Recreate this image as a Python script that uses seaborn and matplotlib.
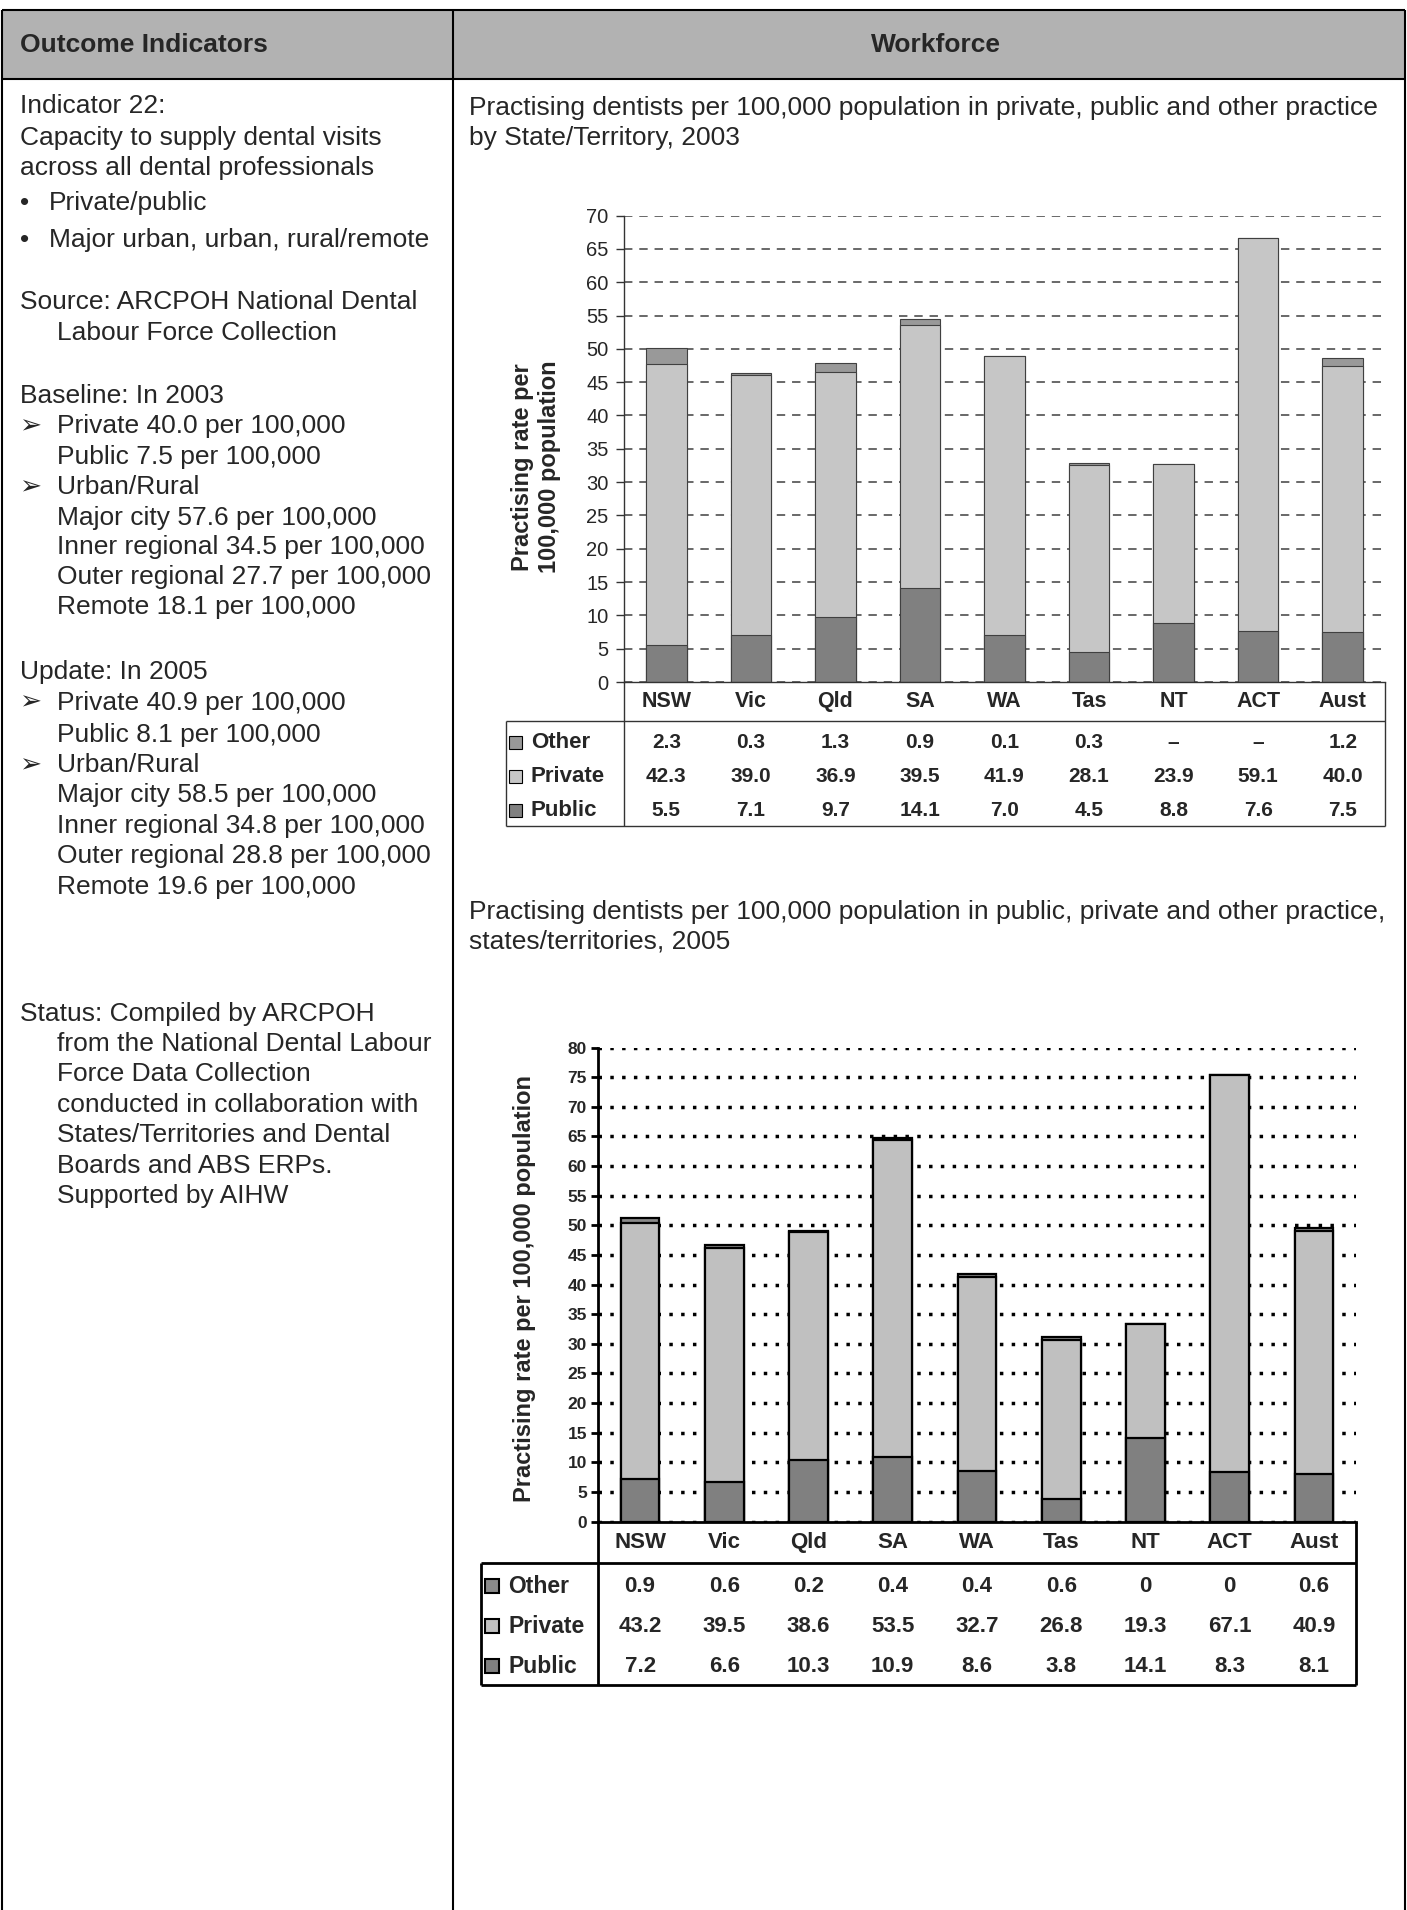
import numpy as np
import pandas as pd
import matplotlib
matplotlib.use("Agg")
import matplotlib.pyplot as plt
import matplotlib.transforms as mtransforms
from matplotlib.patches import Rectangle
import seaborn as sns

# ---- data ----
states = ["NSW", "Vic", "Qld", "SA", "WA", "Tas", "NT", "ACT", "Aust"]

public_2003 = [5.5, 7.1, 9.7, 14.1, 7.0, 4.5, 8.8, 7.6, 7.5]
private_2003 = [42.3, 39.0, 36.9, 39.5, 41.9, 28.1, 23.9, 59.1, 40.0]
other_2003 = [2.3, 0.3, 1.3, 0.9, 0.1, 0.3, np.nan, np.nan, 1.2]  # nan = shown as dash

public_2005 = [7.2, 6.6, 10.3, 10.9, 8.6, 3.8, 14.1, 8.3, 8.1]
private_2005 = [43.2, 39.5, 38.6, 53.5, 32.7, 26.8, 19.3, 67.1, 40.9]
other_2005 = [0.9, 0.6, 0.2, 0.4, 0.4, 0.6, 0, 0, 0.6]

title_2003 = ("Practising dentists per 100,000 population in private, public and other practice\n"
              "by State/Territory, 2003")
title_2005 = ("Practising dentists per 100,000 population in public, private and other practice,\n"
              "states/territories, 2005")

# left column text: (y in layout units, marker, text)
left_lines = [
    (87, None, "Indicator 22:"),
    (113, None, "Capacity to supply dental visits"),
    (138, None, "across all dental professionals"),
    (167, "•", "Private/public"),
    (197, "•", "Major urban, urban, rural/remote"),
    (248, None, "Source: ARCPOH National Dental"),
    (273, "ind", "Labour Force Collection"),
    (325, None, "Baseline: In 2003"),
    (350, "➢", "Private 40.0 per 100,000"),
    (375, "ind", "Public 7.5 per 100,000"),
    (400, "➢", "Urban/Rural"),
    (425, "ind", "Major city 57.6 per 100,000"),
    (449, "ind", "Inner regional 34.5 per 100,000"),
    (474, "ind", "Outer regional 27.7 per 100,000"),
    (498, "ind", "Remote 18.1 per 100,000"),
    (552, None, "Update: In 2005"),
    (577, "➢", "Private 40.9 per 100,000"),
    (603, "ind", "Public 8.1 per 100,000"),
    (628, "➢", "Urban/Rural"),
    (653, "ind", "Major city 58.5 per 100,000"),
    (678, "ind", "Inner regional 34.8 per 100,000"),
    (703, "ind", "Outer regional 28.8 per 100,000"),
    (728, "ind", "Remote 19.6 per 100,000"),
    (832, None, "Status: Compiled by ARCPOH"),
    (857, "ind", "from the National Dental Labour"),
    (882, "ind", "Force Data Collection"),
    (907, "ind", "conducted in collaboration with"),
    (932, "ind", "States/Territories and Dental"),
    (957, "ind", "Boards and ABS ERPs."),
    (982, "ind", "Supported by AIHW"),
]

sns.set_theme(style="white")
plt.rcParams['font.family'] = ['Liberation Sans', 'DejaVu Sans']

W, H = 1407, 1910
S = W / 1155
fig = plt.figure(figsize=(W / 100, H / 100), dpi=100)
bg = fig.add_axes([0, 0, 1, 1], zorder=0)
bg.set_xlim(0, W)
bg.set_ylim(H, 0)
bg.axis('off')


def px_axes(left, top, right, bottom):
    return fig.add_axes([left / W, 1 - bottom / H, (right - left) / W, (bottom - top) / H], zorder=2)


def line(x0, y0, x1, y1, lw=1.5, color='black'):
    bg.plot([x0, x1], [y0, y1], color=color, lw=lw, solid_capstyle='butt')


# ---- page frame ----
bg.add_patch(Rectangle((2, 10), W - 4, 69, facecolor='#b2b2b2', edgecolor='none'))
line(2, 10, W - 2, 10)
line(2, 79, W - 2, 79)
line(2, 10, 2, H)
line(453, 10, 453, H)
line(W - 2, 10, W - 2, H)
bg.text(20, 45, "Outcome Indicators", fontsize=19, fontweight='bold', va='center')
bg.text(936, 45, "Workforce", fontsize=19, fontweight='bold', va='center', ha='center')

for y, mark, txt in left_lines:
    yy = y * S
    if mark is None:
        bg.text(20, yy, txt, fontsize=19, va='center')
    elif mark == "ind":
        bg.text(57, yy, txt, fontsize=19, va='center')
    elif mark == "•":
        bg.text(20, yy, mark, fontsize=19, va='center')
        bg.text(49, yy, txt, fontsize=19, va='center')
    else:
        bg.text(19, yy, mark, fontsize=19, va='center', family=['DejaVu Sans'])
        bg.text(57, yy, txt, fontsize=19, va='center')


def draw_chart(title, title_y, box, ymax, public, private, other, st):
    left, top, right, bottom, row_bot, tab_left, tab_bot = box
    bg.text(469, title_y, title, fontsize=19, va='top', linespacing=1.3)

    ax = px_axes(left, top, right, bottom)
    df = pd.DataFrame({"state": states, "public": public, "private": private,
                       "other": other}).fillna(0)
    df["pub_priv"] = df["public"] + df["private"]
    df["total"] = df["pub_priv"] + df["other"]
    # overlay cumulative bars: total, then public+private, then public
    for col, colr in [("total", st["c_other"]), ("pub_priv", st["c_private"]),
                      ("public", st["c_public"])]:
        sns.barplot(data=df, x="state", y=col, color=colr, width=st["bw"], saturation=1,
                    edgecolor=st["ec"], linewidth=st["blw"], errorbar=None, ax=ax)
    ax.set_xlim(-0.5, len(states) - 0.5)
    ax.set_ylim(0, ymax)
    ax.set_yticks(range(0, ymax + 1, 5))
    ax.set_xticks([])
    ax.set_xlabel("")
    ax.set_ylabel("")
    ax.set_axisbelow(True)
    ax.yaxis.grid(True, color=st["gc"], lw=st["glw"], linestyle=st["gls"],
                  dash_capstyle='butt')
    ax.xaxis.grid(False)
    for sp in ["top", "right"]:
        ax.spines[sp].set_visible(False)
    for sp in ["left", "bottom"]:
        ax.spines[sp].set_color(st["lc"])
        ax.spines[sp].set_linewidth(st["llw"])
    ax.tick_params(axis='y', direction='out', length=st["tl"], width=st["llw"],
                   color=st["lc"], labelsize=st["tfs"], pad=st["tpad"], left=True)
    for lab in ax.get_yticklabels():
        lab.set_fontweight(st["tfw"])

    # ylabel
    bg.text(st["ylx"], st["yly"], st["ylabel"], rotation=90, ha='center', va='center',
            fontsize=st["ylfs"], fontweight='bold', linespacing=st["ylls"], multialignment='center')

    # table frame
    lw, lc = st["llw"], st["lc"]
    line(left, bottom, left, tab_bot, lw, lc)
    line(right, bottom, right, tab_bot, lw, lc)
    line(tab_left, row_bot, right, row_bot, lw, lc)
    line(tab_left, tab_bot, right, tab_bot, lw, lc)
    line(tab_left, row_bot, tab_left, tab_bot, lw, lc)

    trans = mtransforms.blended_transform_factory(ax.transData, bg.transData)
    for i, s in enumerate(states):
        bg.text(i, (bottom + row_bot) / 2, s, transform=trans, ha='center', va='center',
                fontsize=st["cfs"], fontweight='bold')

    rows = [("Other", other, st["c_other"]), ("Private", private, st["c_private"]),
            ("Public", public, st["c_public"])]
    for (name, vals, colr), ry in zip(rows, st["row_y"]):
        sq = st["sq"]
        bg.add_patch(Rectangle((st["sq_x"], ry - sq / 2), sq, sq, facecolor=colr,
                               edgecolor='black', lw=st["sqlw"]))
        bg.text(st["sq_x"] + sq + 9, ry, name, ha='left', va='center',
                fontsize=st["lfs"], fontweight='bold')
        for i, v in enumerate(vals):
            if pd.isna(v):
                t = "–"
            elif v == 0:
                t = "0"
            else:
                t = f"{v:.1f}"
            bg.text(i, ry, t, transform=trans, ha='center', va='center',
                    fontsize=st["vfs"], fontweight='bold')
    return ax


style_2003 = dict(c_other="#999999", c_private="#c6c6c6", c_public="#808080",
                  bw=0.48, ec="#404040", blw=0.8,
                  gc="#404040", glw=1.1, gls=(0, (5.5, 4.5)),
                  lc="#333333", llw=1.0, tl=6, tfs=14.5, tpad=5, tfw='normal',
                  ylabel="Practising rate per\n100,000 population", ylx=536, yly=467,
                  ylfs=17, ylls=1.2,
                  cfs=15.5, vfs=15, lfs=16, sq=13, sq_x=509, sqlw=0.8,
                  row_y=[742, 776, 810])

style_2005 = dict(c_other="#8a8a8a", c_private="#c0c0c0", c_public="#808080",
                  bw=0.46, ec="black", blw=1.6,
                  gc="black", glw=2.5, gls=(0, (1, 2.4)),
                  lc="black", llw=2.0, tl=5, tfs=12.5, tpad=3, tfw='bold',
                  ylabel="Practising rate per 100,000 population", ylx=524, yly=1288,
                  ylfs=17, ylls=1.2,
                  cfs=16, vfs=16, lfs=16.5, sq=14, sq_x=485, sqlw=1.5,
                  row_y=[1586, 1626, 1666])

draw_chart(title_2003, 96, (624, 215.6, 1385, 682, 721, 506, 826), 70,
           public_2003, private_2003, other_2003, style_2003)
draw_chart(title_2005, 900, (598, 1047.6, 1356, 1521.5, 1563, 481, 1685), 80,
           public_2005, private_2005, other_2005, style_2005)

fig.savefig("out.png", dpi=100)
